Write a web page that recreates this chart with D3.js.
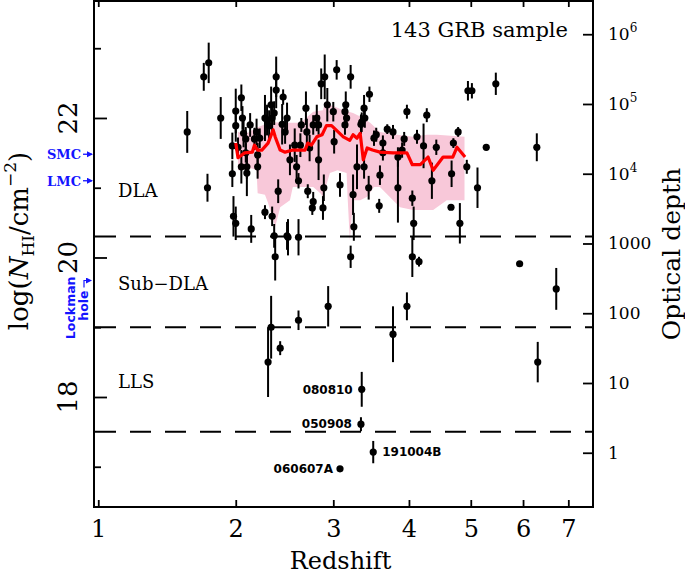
<!DOCTYPE html>
<html><head><meta charset="utf-8">
<script src="https://cdn.jsdelivr.net/npm/d3@7"></script>
<style>body{margin:0;background:#fff}svg{display:block}</style>
</head><body>
<svg id="c" width="685" height="577"></svg>
<script>
// ---------------- data ----------------
const redshift = [1.60,1.73,1.77,1.76,1.87,2.00,2.05,2.00,2.06,1.97,2.07,2.09,2.02,2.05,1.97,2.10,2.10,2.09,1.98,2.00,
  2.14,2.17,2.19,2.20,2.20,2.27,2.29,2.31,2.33,2.38,2.38,2.45,2.34,2.36,2.49,2.44,2.27,2.34,2.40,2.36,
  2.49,2.47,2.86,2.90,3.04,3.21,3.45,2.93,3.00,3.15,3.14,3.16,3.14,3.38,3.39,3.35,3.34,2.69,2.70,2.64,
  2.81,2.83,2.77,2.57,2.63,2.73,2.83,3.01,2.59,2.61,2.71,2.77,2.76,2.89,2.88,3.24,3.29,3.38,3.44,3.51,
  3.54,3.63,3.63,3.69,3.77,3.84,3.84,3.58,3.25,2.50,2.61,3.97,4.27,3.93,4.12,4.22,4.42,4.70,4.78,3.90,
  4.05,4.35,4.67,4.93,5.12,4.95,5.02,5.46,5.28,4.66,4.07,4.81,5.93,6.29,6.72,6.31,2.37,3.21,4.05,4.15,
  2.33,2.30,2.42,2.61,2.94,3.77,3.97,2.22,2.13,2.52,3.08,3.59];
const logNHI = [21.80,22.59,22.79,21.00,22.00,22.10,22.29,21.89,22.00,21.60,21.78,21.70,21.58,21.30,21.20,21.30,21.21,21.50,20.59,20.49,
  20.41,21.70,21.80,21.47,21.30,22.00,21.97,21.89,22.19,22.59,22.40,22.30,22.00,22.07,22.00,21.91,20.65,20.59,20.95,20.31,
  20.31,21.80,22.49,22.59,22.69,22.59,22.34,22.19,22.09,22.19,22.09,22.00,21.90,22.14,22.00,21.94,21.91,22.14,21.80,21.90,
  22.00,21.90,21.90,21.61,21.61,21.57,21.40,21.66,21.30,21.10,20.95,20.80,20.71,21.00,20.71,20.90,21.30,21.30,21.00,21.71,
  21.76,21.64,21.50,21.84,21.80,21.44,21.00,20.74,20.44,20.29,20.29,22.09,22.04,21.70,21.73,21.60,21.58,21.64,21.80,21.54,
  20.85,21.10,21.20,21.30,21.00,22.39,22.39,22.49,21.58,20.72,20.49,20.49,19.91,21.58,19.55,18.50,20.01,20.01,20.01,19.94,
  19.00,18.50,18.70,19.10,19.30,18.90,19.30,21.71,21.90,21.40,21.04,21.18];
const errNHI = [0.30,0.20,0.29,0.20,0.30,0.32,0.19,0.23,0.17,0.19,0.20,0.17,0.14,0.24,0.19,0.17,0.33,0.14,0.29,0.24,
  0.20,0.16,0.19,0.17,0.17,0.33,0.22,0.22,0.26,0.29,0.26,0.11,0.22,0.17,0.22,0.29,0.10,0.14,0.17,0.17,
  0.20,0.17,0.22,0.32,0.14,0.17,0.11,0.24,0.14,0.19,0.14,0.14,0.14,0.19,0.14,0.14,0.14,0.24,0.19,0.10,
  0.19,0.14,0.14,0.24,0.17,0.19,0.29,0.17,0.17,0.11,0.10,0.14,0.10,0.19,0.17,0.29,0.32,0.17,0.17,0.11,
  0.10,0.11,0.11,0.07,0.10,0.14,0.50,0.10,0.20,0.26,0.26,0.10,0.10,0.10,0.10,0.32,0.11,0.07,0.07,0.11,
  0.11,0.26,0.19,0.10,0.29,0.14,0.11,0.16,0.00,0.00,0.24,0.29,0.00,0.20,0.30,0.29,0.34,0.16,0.29,0.07,
  0.45,0.50,0.10,0.14,0.29,0.40,0.20,0.14,0.17,0.22,0.17,0.14];

// labelled low-column bursts
const namedGRB = ["080810","050908","191004B","060607A"];
const namedZ   = [3.35,3.34,3.50,3.08];
const namedN   = [18.11,17.61,17.21,16.97];
const namedErr = [0.25,0.10,0.16,0.00];

// running median (red) and its scatter (pink band)
const medZ = [2.00,2.02,2.08,2.15,2.17,2.20,2.24,2.30,2.35,2.37,2.42,2.47,2.55,2.68,2.71,2.75,2.81,2.87,2.92,2.98,
  3.12,3.20,3.24,3.29,3.33,3.37,3.42,3.49,3.59,3.77,3.97,4.05,4.17,4.29,4.37,4.53,4.69,4.76,4.90];
const medN = [21.64,21.43,21.50,21.51,21.61,21.54,21.54,21.64,21.83,21.73,21.54,21.51,21.54,21.54,21.64,21.61,21.73,21.76,21.89,21.89,
  21.73,21.68,21.76,21.71,21.78,21.40,21.57,21.54,21.51,21.50,21.50,21.33,21.33,21.44,21.25,21.44,21.44,21.58,21.44];
const bandUpZ = [2.02,2.10,2.19,2.32,2.52,2.63,2.77,2.88,2.90,3.02,3.12,3.24,3.35,3.46,3.59,3.83,4.06,4.27,4.43,4.89];
const bandUpN = [21.80,21.78,21.86,21.94,21.93,21.93,22.09,22.11,22.22,22.16,22.11,22.07,22.01,21.93,21.80,21.76,21.73,21.76,21.76,21.73];
const bandLoZ = [2.02,2.14,2.19,2.20,2.27,2.30,2.37,2.42,2.52,2.55,2.77,2.85,2.88,2.96,3.05,3.16,3.17,3.20,3.24,3.33,
  3.42,3.51,3.59,3.77,3.87,4.06,4.37,4.59,4.89];
const bandLoN = [21.25,21.28,21.25,20.92,20.90,20.78,20.44,20.72,20.82,21.01,21.01,20.92,20.87,21.21,21.25,21.21,20.92,20.25,20.82,20.82,
  20.87,21.01,21.01,20.82,20.72,20.68,20.68,20.82,20.82];

// absorber class boundaries and labels
const classBounds = [20.3, 19.0, 17.5];
const classNames  = ["DLA", "Sub\u2212DLA", "LLS"];

// ticks
const xTicks = [1,2,3,4,5,6,7];
const yMajor = [18,20,22];
const yMinor = [17,19,21,23];
const tauTicks = [1,10,100,1000,1e4,1e5,1e6];
const tauLabels = [["1",""],["10",""],["100",""],["1000",""],["10","4"],["10","5"],["10","6"]];

// Galactic / Magellanic reference columns
const refNames = ["SMC","LMC"];
const refN = [21.48, 21.10];
const lockmanN = 19.67;

// ---------------- drawing ----------------
const L=94, R=593, T=1, B=507;
const SERIF = "'DejaVu Serif', serif";
const svg = d3.select("#c");
const x = d3.scaleLog().domain([1.975, 8.604]).range([L, R]);       // applied to (1+z)
const y = d3.scaleLinear().domain([16.423, 23.677]).range([B, T]);
const LOG_SIGMA = -17.2007;                                         // log10(6.3e-18 cm^2)
const tau = d3.scaleLog().domain(y.domain().map(v => Math.pow(10, v + LOG_SIGMA))).range([B, T]);
const X = z => x(1 + z);

// pink band
const bandPts = bandUpZ.map((z,i)=>[X(z), y(bandUpN[i])])
  .concat(bandLoZ.map((z,i)=>[X(z), y(bandLoN[i])]).reverse());
svg.append("path").attr("d", d3.line()(bandPts) + "Z").attr("fill", "#f8c8d9").attr("stroke", "none");

// dashed boundaries
svg.selectAll("line.bd").data(classBounds).join("line")
  .attr("x1", L+1).attr("x2", R).attr("y1", d=>y(d)).attr("y2", d=>y(d))
  .attr("stroke", "#000").attr("stroke-width", 2).attr("stroke-dasharray", "21,14");

// class labels
const classY = [20.87, 19.53, 18.13];
classNames.forEach((t,i)=>{
  svg.append("text").attr("x", 118).attr("y", y(classY[i])).text(t)
    .attr("font-family", SERIF).attr("font-size", 18).attr("fill", "#000");
});

// data points
const pts = redshift.map((z,i)=>({z, n: logNHI[i], e: errNHI[i]}))
  .concat(namedZ.map((z,i)=>({z, n: namedN[i], e: namedErr[i]})));
const gp = svg.append("g");
gp.selectAll("line").data(pts.filter(d=>d.e>0)).join("line")
  .attr("x1", d=>X(d.z)).attr("x2", d=>X(d.z))
  .attr("y1", d=>y(d.n + d.e)).attr("y2", d=>y(d.n - d.e))
  .attr("stroke", "#000").attr("stroke-width", 2);
gp.selectAll("circle").data(pts).join("circle")
  .attr("cx", d=>X(d.z)).attr("cy", d=>y(d.n)).attr("r", 3.6).attr("fill", "#000");

// red running median
svg.append("path").datum(medZ.map((z,i)=>[X(z), y(medN[i])]))
  .attr("d", d3.line()).attr("fill", "none").attr("stroke", "#ff0000")
  .attr("stroke-width", 3.2).attr("stroke-linejoin", "round");

// labels of named bursts
const nameOff = [[-9, 5, "end"], [-9, 4, "end"], [9, 4, "start"], [-7, 4, "end"]];
namedGRB.forEach((t,i)=>{
  svg.append("text").attr("x", X(namedZ[i]) + nameOff[i][0]).attr("y", y(namedN[i]) + nameOff[i][1])
    .attr("text-anchor", nameOff[i][2]).text(t)
    .attr("font-family", "'DejaVu Sans', sans-serif").attr("font-weight", "bold")
    .attr("font-size", 12).attr("fill", "#000");
});

// frame
svg.append("rect").attr("x", L).attr("y", T).attr("width", R-L).attr("height", B-T)
  .attr("fill", "none").attr("stroke", "#000").attr("stroke-width", 2);

function styleAxis(g){
  g.select(".domain").remove();
  g.selectAll(".tick line").attr("stroke", "#000").attr("stroke-width", 1.8);
}
// bottom axis
const gb = svg.append("g").attr("transform", `translate(0,${B})`)
  .call(d3.axisBottom(x).tickValues(xTicks.map(v=>1+v)).tickSizeInner(-7).tickSizeOuter(0)
    .tickPadding(13).tickFormat((d,i)=>String(xTicks[i])));
styleAxis(gb);
gb.selectAll("text").attr("font-family", SERIF).attr("font-size", 24).attr("fill", "#000");
// top axis
const gt = svg.append("g").attr("transform", `translate(0,${T})`)
  .call(d3.axisTop(x).tickValues(xTicks.map(v=>1+v)).tickSizeInner(-6).tickSizeOuter(0).tickFormat(""));
styleAxis(gt);
// left axis
const gl = svg.append("g").attr("transform", `translate(${L},0)`)
  .call(d3.axisLeft(y).tickValues(yMajor).tickSizeInner(-13).tickSizeOuter(0).tickFormat(""));
styleAxis(gl);
const gl2 = svg.append("g").attr("transform", `translate(${L},0)`)
  .call(d3.axisLeft(y).tickValues(yMinor).tickSizeInner(-7).tickSizeOuter(0).tickFormat(""));
styleAxis(gl2);
yMajor.forEach(v=>{
  svg.append("text").attr("transform", `translate(77,${y(v)}) rotate(-90)`)
    .attr("text-anchor", "middle").text(v)
    .attr("font-family", SERIF).attr("font-size", 26).attr("fill", "#000");
});
// right axis (optical depth)
const gr = svg.append("g").attr("transform", `translate(${R},0)`)
  .call(d3.axisRight(tau).tickValues(tauTicks).tickSizeInner(-10).tickSizeOuter(0).tickFormat(""));
styleAxis(gr);
tauTicks.forEach((v,i)=>{
  const t = svg.append("text").attr("x", 608).attr("y", tau(v) + 6)
    .attr("font-family", SERIF).attr("font-size", 17).attr("fill", "#000");
  t.append("tspan").text(tauLabels[i][0]);
  if (tauLabels[i][1]) t.append("tspan").attr("dy", -8).attr("font-size", 12).text(tauLabels[i][1]);
});

// axis titles
svg.append("text").attr("x", (L+R)/2 - 3).attr("y", 569).attr("text-anchor", "middle")
  .attr("font-family", SERIF).attr("font-size", 24).attr("fill", "#000").text("Redshift");
const yt = svg.append("text").attr("transform", "translate(28,241) rotate(-90)").attr("text-anchor", "middle")
  .attr("font-family", SERIF).attr("font-size", 26).attr("fill", "#000");
yt.append("tspan").text("log(");
yt.append("tspan").attr("font-style", "italic").text("N");
yt.append("tspan").attr("font-size", 17).attr("dy", 6).text("HI");
yt.append("tspan").attr("dy", -6).text("/cm");
yt.append("tspan").attr("font-size", 17).attr("dy", -12).text("\u22122");
yt.append("tspan").attr("dy", 12).text(")");
svg.append("text").attr("transform", "translate(680,254) rotate(-90)").attr("text-anchor", "middle")
  .attr("font-family", SERIF).attr("font-size", 25).attr("fill", "#000").text("Optical depth");

// sample size label
svg.append("text").attr("x", 568).attr("y", 37).attr("text-anchor", "end")
  .attr("font-family", SERIF).attr("font-size", 21).attr("fill", "#000").text("143 GRB sample");

// blue reference markers
const BLUE = "#1414ff";
const defs = svg.append("defs");
defs.append("marker").attr("id", "ah").attr("viewBox", "0 0 6 6").attr("refX", 5).attr("refY", 3)
  .attr("markerWidth", 5).attr("markerHeight", 5).attr("orient", "auto")
  .append("path").attr("d", "M0,0 L6,3 L0,6 Z").attr("fill", BLUE);
refNames.forEach((t,i)=>{
  const yy = y(refN[i]);
  svg.append("text").attr("x", 81).attr("y", yy + 5).attr("text-anchor", "end").text(t)
    .attr("font-family", SERIF).attr("font-weight", "bold").attr("font-size", 13).attr("fill", BLUE);
  svg.append("line").attr("x1", 83).attr("x2", 92).attr("y1", yy).attr("y2", yy)
    .attr("stroke", BLUE).attr("stroke-width", 1.3).attr("marker-end", "url(#ah)");
});
const yl = y(lockmanN);
svg.append("text").attr("transform", `translate(75,${yl - 4}) rotate(-90)`).attr("text-anchor", "end")
  .attr("font-family", "'DejaVu Sans', sans-serif").attr("font-weight", "bold").attr("font-size", 12.5)
  .attr("fill", BLUE).text("Lockman");
svg.append("text").attr("transform", `translate(88,${yl + 10}) rotate(-90)`).attr("text-anchor", "end")
  .attr("font-family", "'DejaVu Sans', sans-serif").attr("font-weight", "bold").attr("font-size", 12.5)
  .attr("fill", BLUE).text("hole");
svg.append("path").attr("d", `M84,${yl + 7} L84,${yl} L91,${yl}`).attr("fill", "none")
  .attr("stroke", BLUE).attr("stroke-width", 1.2).attr("marker-end", "url(#ah)");
</script>
</body></html>
